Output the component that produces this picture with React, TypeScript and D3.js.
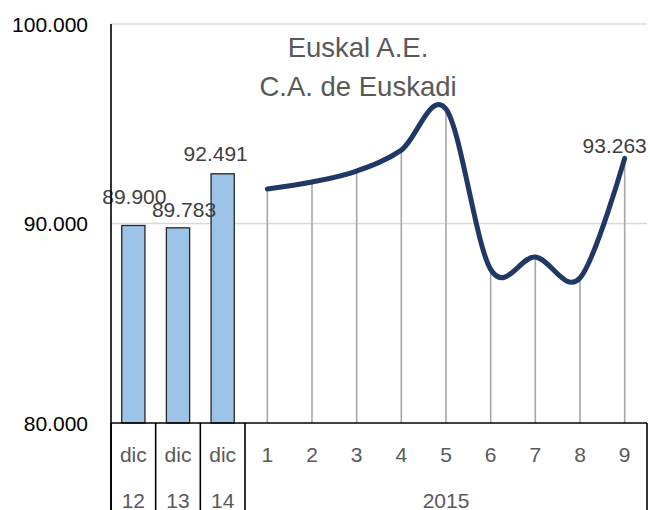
import React from "react";
import * as d3 from "d3";

const barCats = ["dic|12", "dic|13", "dic|14"];
const barValues = [89.9, 89.783, 92.491];
const barLabels = ["89.900", "89.783", "92.491"];
const months = ["1", "2", "3", "4", "5", "6", "7", "8", "9"];
const lineValues = [91.73, 92.08, 92.63, 93.68, 95.74, 87.7, 88.32, 87.27, 93.263];
const yearLabel = "2015";
const yTicks = [80, 90, 100];
const titleLines = ["Euskal A.E.", "C.A. de Euskadi"];

const W = 650, H = 510;
const left = 111, right = 647, top = 24, bottom = 423;
const font = "'Liberation Sans', Arial, sans-serif";
const fmt = (v: number) => d3.format(".3f")(v / 1000).replace(",", ".");

export default function App() {
  const cats = [...barCats.map((_, i) => "b" + i), ...months.map((m) => "m" + m)];
  const x = d3.scaleBand<string>().domain(cats).range([left, right]).padding(0);
  const y = d3.scaleLinear().domain([80, 100]).range([bottom, top]);
  const bw = x.bandwidth();
  const barW = bw * 0.52;
  const cx = (k: string) => (x(k) as number) + bw / 2;

  const pts: [number, number][] = months.map((m, i) => [cx("m" + m), y(lineValues[i])]);
  const line = d3.line().curve(d3.curveCatmullRom.alpha(0))(pts) as string;

  const barLabelOff = [[1, -21], [6, -11], [-7, -13]];
  const sepXs = [left, left + bw, left + 2 * bw, left + 3 * bw, right];

  return (
    <svg width={W} height={H} style={{ position: "absolute", left: 0, top: 0, background: "#fff" }} fontFamily={font}>
      {yTicks.filter((t) => t !== 80).map((t) => (
        <line key={t} x1={left} x2={right} y1={y(t)} y2={y(t)} stroke="#D9D9D9" strokeWidth={1.5} />
      ))}
      {yTicks.map((t) => (
        <text key={"yt" + t} x={88} y={y(t)} dy="0.36em" textAnchor="end" fontSize={21} fill="#000">
          {fmt(t * 1000)}
        </text>
      ))}
      {barValues.map((v, i) => {
        const c = cx("b" + i);
        return (
          <rect key={"b" + i} x={c - barW / 2} y={y(v)} width={barW} height={bottom - y(v)}
            fill="#9DC3E6" stroke="#262626" strokeWidth={1.3} />
        );
      })}
      {pts.map((p, i) => (
        <line key={"d" + i} x1={p[0]} x2={p[0]} y1={p[1]} y2={bottom} stroke="#A6A6A6" strokeWidth={1.6} />
      ))}
      <path d={line} fill="none" stroke="#203864" strokeWidth={5} strokeLinecap="round" />
      {barValues.map((v, i) => (
        <text key={"bl" + i} x={cx("b" + i) + barLabelOff[i][0]} y={y(v) + barLabelOff[i][1]}
          textAnchor="middle" fontSize={21} fill="#404040">{barLabels[i]}</text>
      ))}
      <text x={pts[8][0] - 10} y={pts[8][1] - 5} textAnchor="middle" fontSize={21} fill="#404040">
        {fmt(lineValues[8] * 1000)}
      </text>
      {/* axes */}
      <line x1={left} x2={left} y1={top} y2={H} stroke="#000" strokeWidth={1.6} />
      <line x1={left} x2={right} y1={bottom} y2={bottom} stroke="#000" strokeWidth={1.6} />
      {sepXs.map((sx, i) => (
        <line key={"s" + i} x1={sx} x2={sx} y1={bottom} y2={H} stroke="#000" strokeWidth={1.6} />
      ))}
      {barCats.map((c, i) => {
        const [a, b] = c.split("|");
        return (
          <g key={"bc" + i}>
            <text x={cx("b" + i)} y={462} textAnchor="middle" fontSize={21} fill="#595959">{a}</text>
            <text x={cx("b" + i)} y={508} textAnchor="middle" fontSize={21} fill="#595959">{b}</text>
          </g>
        );
      })}
      {months.map((m) => (
        <text key={"mc" + m} x={cx("m" + m)} y={462} textAnchor="middle" fontSize={21} fill="#595959">{m}</text>
      ))}
      <text x={(left + 3 * bw + right) / 2} y={508} textAnchor="middle" fontSize={21} fill="#595959">{yearLabel}</text>
      {titleLines.map((t, i) => (
        <text key={"t" + i} x={358} y={57 + i * 39} textAnchor="middle" fontSize={27.5} fill="#595959">{t}</text>
      ))}
    </svg>
  );
}
